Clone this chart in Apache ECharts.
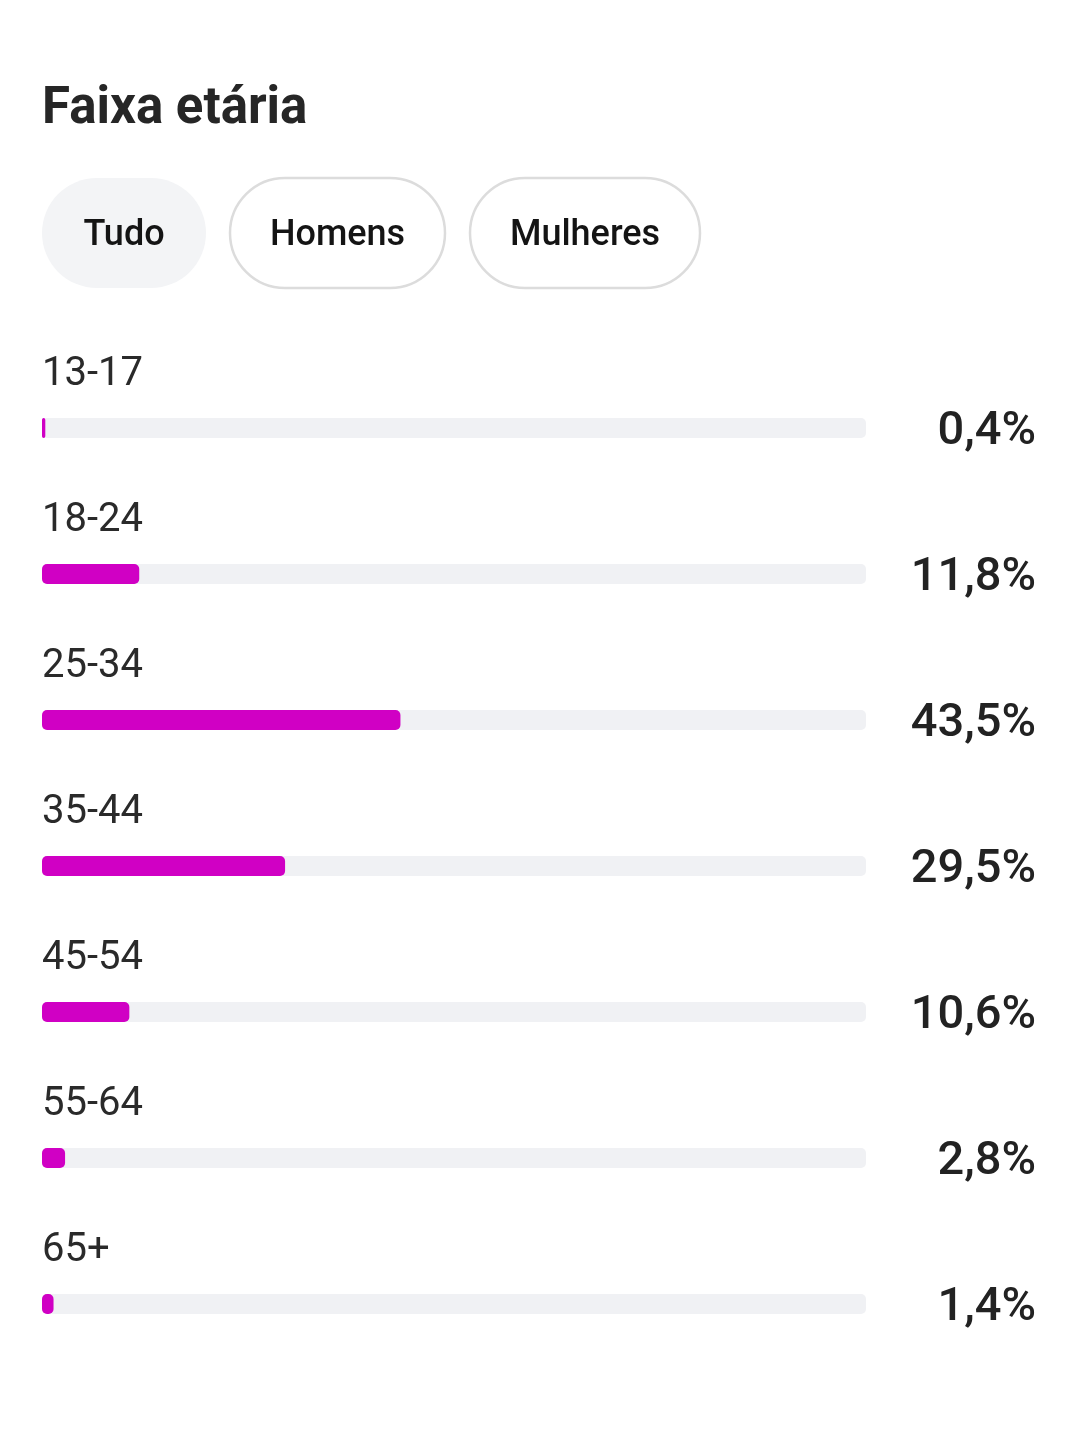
<!DOCTYPE html>
<html>
<head>
<meta charset="utf-8">
<script src="https://cdn.jsdelivr.net/npm/echarts@6/dist/echarts.min.js"></script>
<style>
html,body{margin:0;padding:0;background:#fff;}
#c{width:1077px;height:1437px;}
</style>
</head>
<body>
<div id="c"></div>
<script>
const title = 'Faixa etária';
const filters = ['Tudo', 'Homens', 'Mulheres'];
const categories = ['13-17', '18-24', '25-34', '35-44', '45-54', '55-64', '65+'];
const values = [0.4, 11.8, 43.5, 29.5, 10.6, 2.8, 1.4];
const valueLabels = ['0,4%', '11,8%', '43,5%', '29,5%', '10,6%', '2,8%', '1,4%'];

const chart = echarts.init(document.getElementById('c'), null, {renderer: 'canvas'});

const btns = [
  {x: 42, w: 164, fill: '#f3f4f6', stroke: null},
  {x: 230, w: 215, fill: '#fff', stroke: '#dcdcdc'},
  {x: 470, w: 230, fill: '#fff', stroke: '#dcdcdc'}
];
const graphics = [];
filters.forEach((f, i) => {
  const b = btns[i];
  graphics.push({
    type: 'rect',
    shape: {x: b.x, y: 178, width: b.w, height: 110, r: 55},
    style: {fill: b.fill, stroke: b.stroke || null, lineWidth: b.stroke ? 2.5 : 0}
  });
  graphics.push({
    type: 'text',
    x: b.x + b.w / 2, y: 236,
    style: {text: f, font: '500 36px Roboto', fill: '#141414', textAlign: 'center', textVerticalAlign: 'middle'}
  });
});

chart.setOption({
  animation: false,
  backgroundColor: '#fff',
  title: {
    text: title, left: 37, top: 80,
    textStyle: {fontFamily: 'Roboto', fontWeight: 'bold', fontSize: 51, color: '#262626'}
  },
  graphic: graphics,
  grid: {left: 42, right: 211, top: 355, bottom: 60, containLabel: false},
  xAxis: {type: 'value', min: 0, max: 100, show: false},
  yAxis: [
    {
      type: 'category', data: categories, inverse: true,
      axisLine: {show: false}, axisTick: {show: false}, splitLine: {show: false},
      axisLabel: {
        inside: true, margin: 0, align: 'left', verticalAlign: 'bottom',
        formatter: v => '{a|' + v + '}\n{b|}',
        rich: {
          a: {fontFamily: 'Roboto', fontSize: 40, lineHeight: 48, color: '#2a2a2a'},
          b: {fontSize: 10, lineHeight: 29}
        }
      }
    },
    {
      type: 'category', data: valueLabels, inverse: true, position: 'right',
      axisLabel: {
        margin: 170, align: 'right', verticalAlign: 'middle',
        formatter: v => '{a|' + v + '}',
        rich: {
          a: {fontFamily: 'Roboto', fontWeight: 500, fontSize: 47, color: '#222', padding: [8, 0, 0, 0]}
        }
      },
      axisLine: {show: false}, axisTick: {show: false}, splitLine: {show: false}
    }
  ],
  series: [{
    type: 'bar',
    data: values,
    barWidth: 20,
    showBackground: true,
    backgroundStyle: {color: '#f0f1f4', borderRadius: 5},
    itemStyle: {color: '#d000c4', borderRadius: 5},
    yAxisIndex: 0
  }]
});
</script>
</body>
</html>
